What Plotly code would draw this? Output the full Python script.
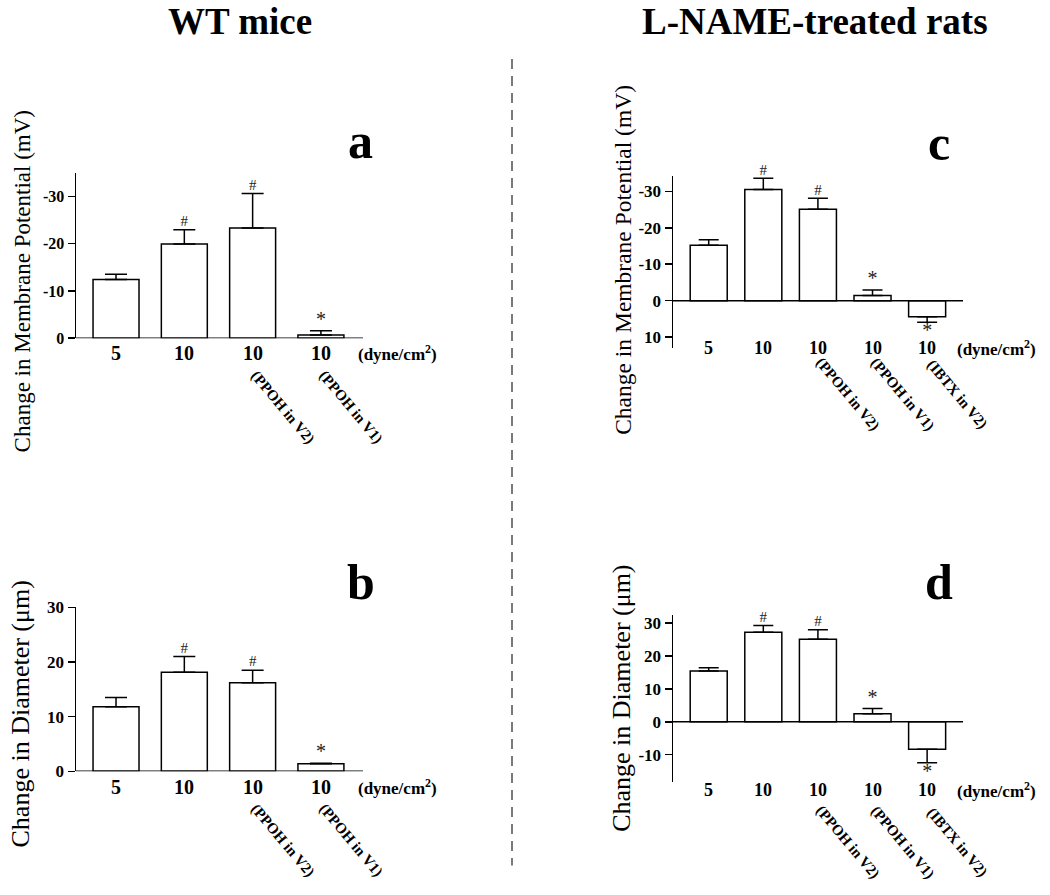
import plotly.graph_objects as go

# ---------------- data ----------------
cond_wt = ["5", "10", "10", "10"]
sub_wt = ["", "", "(PPOH in V2)", "(PPOH in V1)"]
cond_ln = ["5", "10", "10", "10", "10"]
sub_ln = ["", "", "(PPOH in V2)", "(PPOH in V1)", "(IBTX in V2)"]

mp_wt = [-12.4, -19.9, -23.3, -0.7]
mp_wt_err = [1.1, 3.0, 7.3, 0.9]
mp_wt_sig = ["", "#", "#", "*"]

dia_wt = [11.8, 18.1, 16.2, 1.4]
dia_wt_err = [1.7, 2.9, 2.3, 0.1]
dia_wt_sig = ["", "#", "#", "*"]

mp_ln = [-15.2, -30.5, -25.1, -1.4, 4.4]
mp_ln_err = [1.5, 3.1, 3.0, 1.5, 1.5]
mp_ln_sig = ["", "#", "#", "*", "*"]

dia_ln = [15.4, 27.1, 25.0, 2.4, -8.3]
dia_ln_err = [1.0, 2.1, 2.9, 1.6, 4.1]
dia_ln_sig = ["", "#", "#", "*", "*"]

mp_wt_ticks = [-30, -20, -10, 0]
dia_wt_ticks = [0, 10, 20, 30]
mp_ln_ticks = [-30, -20, -10, 0, 10]
dia_ln_ticks = [-10, 0, 10, 20, 30]

title_mp = "Change in Membrane Potential (mV)"
title_dia = "Change in Diameter (\u03bcm)"
unit_label = "(dyne/cm<sup>2</sup>)"
header_left = "WT mice"
header_right = "L-NAME-treated rats"

# ---------------- layout helpers ----------------
W, H = 1050, 895
FONT = "Liberation Serif"


def fx(px):
    return px / W


def fy(py):
    return 1 - py / H


panels = [
    dict(key="a", vals=mp_wt, err=mp_wt_err, sig=mp_wt_sig, cond=cond_wt, sub=sub_wt,
         ticks=mp_wt_ticks, title=title_mp, xd=(76, 363), yd=(168, 337),
         yr=[0, -35], xr=[-0.586, 3.616], bw=0.673, rev=True, tfs=16, xfs=20,
         xlab_shift=-15, unit_shift=-7, sub_dx=30, sub_dy=69,
         title_pos=(22, 279), title_fs=23, letter_pos=(360, 136), cap=11),
    dict(key="b", vals=dia_wt, err=dia_wt_err, sig=dia_wt_sig, cond=cond_wt, sub=sub_wt,
         ticks=dia_wt_ticks, title=title_dia, xd=(76, 363), yd=(611, 779),
         yr=[0, 30.1], xr=[-0.586, 3.616], bw=0.673, rev=False, tfs=17, xfs=20,
         xlab_shift=-16, unit_shift=-7, sub_dx=30, sub_dy=69,
         title_pos=(20, 721), title_fs=26, letter_pos=(361, 586), cap=11),
    dict(key="c", vals=mp_ln, err=mp_ln_err, sig=mp_ln_sig, cond=cond_ln, sub=sub_ln,
         ticks=mp_ln_ticks, title=title_mp, xd=(673, 963), yd=(171.5, 347),
         yr=[13, -34.2], xr=[-0.654, 4.657], bw=0.678, rev=True, tfs=17, xfs=18,
         xlab_shift=0, unit_shift=-8, sub_dx=30, sub_dy=46,
         title_pos=(623, 257), title_fs=23.5, letter_pos=(939, 138), cap=10),
    dict(key="d", vals=dia_ln, err=dia_ln_err, sig=dia_ln_sig, cond=cond_ln, sub=sub_ln,
         ticks=dia_ln_ticks, title=title_dia, xd=(673, 963), yd=(619, 790),
         yr=[-18.3, 32.5], xr=[-0.654, 4.657], bw=0.678, rev=False, tfs=17, xfs=18,
         xlab_shift=-8, unit_shift=-8, sub_dx=30, sub_dy=60,
         title_pos=(622, 705), title_fs=26, letter_pos=(939, 586), cap=10),
]

fig = go.Figure()
annotations = []
shapes = []
layout_axes = {}

for i, p in enumerate(panels, start=1):
    xa = "x" if i == 1 else f"x{i}"
    ya = "y" if i == 1 else f"y{i}"
    xname = "xaxis" if i == 1 else f"xaxis{i}"
    yname = "yaxis" if i == 1 else f"yaxis{i}"
    n = len(p["vals"])
    xs = list(range(n))
    plus = [e if v > 0 else 0 for v, e in zip(p["vals"], p["err"])]
    minus = [e if v < 0 else 0 for v, e in zip(p["vals"], p["err"])]

    fig.add_trace(go.Bar(
        x=xs, y=p["vals"], width=p["bw"], xaxis=xa, yaxis=ya,
        marker=dict(color="white", line=dict(color="black", width=1.5)),
        error_y=dict(type="data", symmetric=False, array=plus, arrayminus=minus,
                     color="black", thickness=1.5, width=p["cap"]),
        cliponaxis=False, showlegend=False, hoverinfo="skip",
    ))

    # significance marks (placed at the end of each error bar), one trace per symbol
    for sym, fsz in (("#", 15), ("*", 20)):
        sx, sy, st, spos = [], [], [], []
        for j, (v, e, s) in enumerate(zip(p["vals"], p["err"], p["sig"])):
            if s != sym:
                continue
            end = v + e if v > 0 else v - e
            up = (v < 0) == p["rev"]
            sx.append(j)
            sy.append(end)
            st.append(s)
            spos.append("top center" if up else "bottom center")
        if sx:
            fig.add_trace(go.Scatter(
                x=sx, y=sy, text=st, mode="text", textposition=spos, xaxis=xa, yaxis=ya,
                textfont=dict(family=FONT, size=fsz, color="#222"),
                cliponaxis=False, showlegend=False, hoverinfo="skip",
            ))

    layout_axes[xname] = dict(domain=[fx(p["xd"][0]), fx(p["xd"][1])], range=p["xr"],
                              anchor=ya, showline=False, showticklabels=False,
                              showgrid=False, zeroline=False, ticks="")
    layout_axes[yname] = dict(domain=[fy(p["yd"][1]), fy(p["yd"][0])], range=p["yr"],
                              anchor=xa, showline=True, linecolor="black", linewidth=1.5,
                              ticks="outside", ticklen=7, tickwidth=1.5, tickcolor="black",
                              tickvals=p["ticks"], ticktext=[str(t) for t in p["ticks"]],
                              tickfont=dict(family=FONT, size=p["tfs"], color="black",
                                            weight="bold"),
                              showgrid=False, zeroline=False)

    # zero line
    shapes.append(dict(type="line", xref=f"{xa} domain", yref=ya, x0=0, x1=1, y0=0, y1=0,
                       line=dict(color="black", width=1.5)))

    # x labels
    for j, (c, s) in enumerate(zip(p["cond"], p["sub"])):
        annotations.append(dict(x=j, xref=xa, y=0, yref=f"{ya} domain", text=c,
                                showarrow=False, xanchor="center", yanchor="middle",
                                yshift=p["xlab_shift"],
                                font=dict(family=FONT, size=p["xfs"], color="black",
                                          weight="bold")))
        if s:
            annotations.append(dict(x=j, xref=xa, y=0, yref=f"{ya} domain", text=s,
                                    showarrow=False, xanchor="center", yanchor="middle",
                                    xshift=p["sub_dx"], yshift=-p["sub_dy"], textangle=50,
                                    font=dict(family=FONT, size=15, color="black",
                                              weight="bold")))
    annotations.append(dict(x=1, xref=f"{xa} domain", y=0, yref=f"{ya} domain",
                            text=unit_label, showarrow=False, xanchor="left",
                            yanchor="middle", xshift=p["unit_shift"],
                            yshift=p["xlab_shift"],
                            font=dict(family=FONT, size=17, color="black", weight="bold")))

    # y title
    annotations.append(dict(x=fx(p["title_pos"][0]), y=fy(p["title_pos"][1]),
                            xref="paper", yref="paper", text=p["title"], textangle=-90,
                            showarrow=False, xanchor="center", yanchor="middle",
                            font=dict(family=FONT, size=p["title_fs"], color="black")))
    # panel letter
    annotations.append(dict(x=fx(p["letter_pos"][0]), y=fy(p["letter_pos"][1]),
                            xref="paper", yref="paper", text=p["key"], showarrow=False,
                            xanchor="center", yanchor="middle",
                            font=dict(family=FONT, size=50, color="black", weight="bold")))

# headers
annotations.append(dict(x=fx(240), y=fy(14), xref="paper", yref="paper", text=header_left,
                        showarrow=False, xanchor="center", yanchor="middle",
                        font=dict(family=FONT, size=37, color="black", weight="bold")))
annotations.append(dict(x=fx(815), y=fy(14), xref="paper", yref="paper", text=header_right,
                        showarrow=False, xanchor="center", yanchor="middle",
                        font=dict(family=FONT, size=37, color="black", weight="bold")))

# dashed divider
shapes.append(dict(type="line", xref="paper", yref="paper", x0=fx(512), x1=fx(512),
                   y0=fy(52), y1=fy(875), line=dict(color="#7a7a7a", width=2,
                                                      dash="10px,7px")))

fig.update_layout(
    width=W, height=H, margin=dict(l=0, r=0, t=0, b=0),
    paper_bgcolor="white", plot_bgcolor="white",
    annotations=annotations, shapes=shapes, showlegend=False,
    bargap=0, **layout_axes,
)

fig.write_html("out.html",
               config={"displayModeBar": False, "staticPlot": True},
               post_script="document.body.style.margin='0';"
                           "document.body.style.overflow='hidden';")
